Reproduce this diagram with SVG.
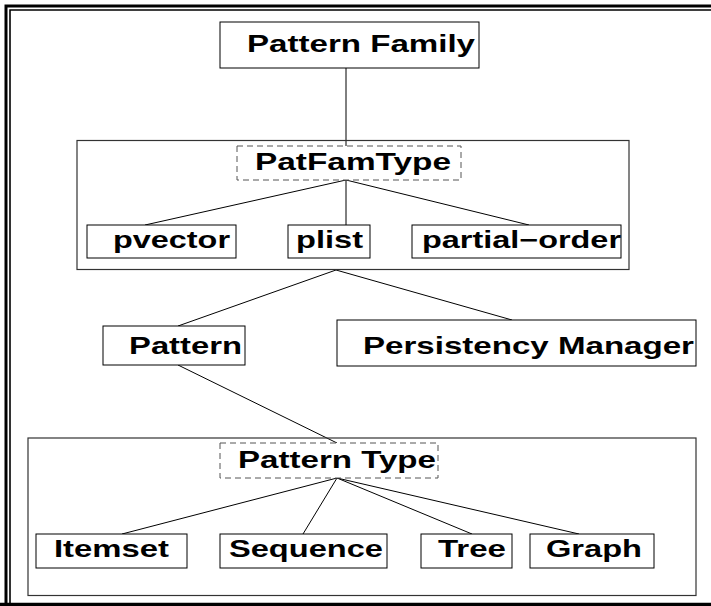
<svg xmlns="http://www.w3.org/2000/svg" width="711" height="606" viewBox="0 0 711 606">
<style>
.box{fill:#fff;stroke:#000;stroke-width:1}
.cont{fill:none;stroke:#333;stroke-width:1.2}
.dash{fill:#fff;stroke:#555;stroke-width:1;stroke-dasharray:6,4}
.lbl{font-family:"Liberation Sans",Arial,sans-serif;font-weight:bold;font-size:24px;fill:#000}
.edge{stroke:#000;stroke-width:1;fill:none}
.frame{fill:none;stroke:#000}
</style>
<rect width="711" height="606" fill="#fff"/>
<g id="frame">
<path class="frame" stroke-width="3" d="M6,606 V6 H711"/>
<path class="frame" stroke-width="1.6" d="M10,606 V10 H711"/>
<path class="frame" stroke-width="3.5" d="M0,604.5 H711"/>
</g>
<g id="connectors">
<line class="edge" x1="346" y1="68" x2="346" y2="146"/>
<line class="edge" x1="346" y1="180" x2="145" y2="225"/>
<line class="edge" x1="346" y1="180" x2="346" y2="225"/>
<line class="edge" x1="346" y1="180" x2="529" y2="225"/>
<line class="edge" x1="336" y1="270" x2="178" y2="326"/>
<line class="edge" x1="336" y1="270" x2="512" y2="320"/>
<line class="edge" x1="178" y1="365" x2="337" y2="443"/>
<line class="edge" x1="337" y1="478" x2="122" y2="534"/>
<line class="edge" x1="337" y1="478" x2="303" y2="534"/>
<line class="edge" x1="337" y1="478" x2="472" y2="534"/>
<line class="edge" x1="337" y1="478" x2="579" y2="534"/>
</g>
<g id="patfam-container"><rect class="cont" x="77" y="140.5" width="552" height="129"/></g>
<g id="pattype-container"><rect class="cont" x="28" y="438" width="668" height="157.5"/></g>
<g id="pattern-family"><rect class="box" x="220" y="22" width="259" height="46"/><text class="lbl" x="247" y="52" textLength="228" lengthAdjust="spacingAndGlyphs">Pattern Family</text></g>
<g id="patfamtype"><rect class="dash" x="237" y="146" width="224" height="34"/><text class="lbl" x="255" y="170" textLength="196" lengthAdjust="spacingAndGlyphs">PatFamType</text></g>
<g id="pvector"><rect class="box" x="87" y="225" width="149" height="33"/><text class="lbl" x="113" y="248" textLength="117" lengthAdjust="spacingAndGlyphs">pvector</text></g>
<g id="plist"><rect class="box" x="288" y="225" width="82" height="33"/><text class="lbl" x="296" y="248" textLength="67" lengthAdjust="spacingAndGlyphs">plist</text></g>
<g id="partial-order"><rect class="box" x="412" y="225" width="209" height="33"/><text class="lbl" x="422" y="248" textLength="199" lengthAdjust="spacingAndGlyphs">partial−order</text></g>
<g id="pattern"><rect class="box" x="103" y="326" width="142" height="39"/><text class="lbl" x="129" y="354" textLength="113" lengthAdjust="spacingAndGlyphs">Pattern</text></g>
<g id="persistency-manager"><rect class="box" x="337" y="320" width="359" height="46"/><text class="lbl" x="363" y="354" textLength="331" lengthAdjust="spacingAndGlyphs">Persistency Manager</text></g>
<g id="pattern-type"><rect class="dash" x="220" y="443" width="218" height="35"/><text class="lbl" x="238" y="468" textLength="198" lengthAdjust="spacingAndGlyphs">Pattern Type</text></g>
<g id="itemset"><rect class="box" x="36" y="534" width="151" height="34"/><text class="lbl" x="54" y="557" textLength="115" lengthAdjust="spacingAndGlyphs">Itemset</text></g>
<g id="sequence"><rect class="box" x="220" y="534" width="167" height="34"/><text class="lbl" x="229" y="557" textLength="154" lengthAdjust="spacingAndGlyphs">Sequence</text></g>
<g id="tree"><rect class="box" x="421" y="534" width="91" height="34"/><text class="lbl" x="438" y="557" textLength="68" lengthAdjust="spacingAndGlyphs">Tree</text></g>
<g id="graph"><rect class="box" x="530" y="534" width="124" height="34"/><text class="lbl" x="546" y="557" textLength="96" lengthAdjust="spacingAndGlyphs">Graph</text></g>
</svg>
